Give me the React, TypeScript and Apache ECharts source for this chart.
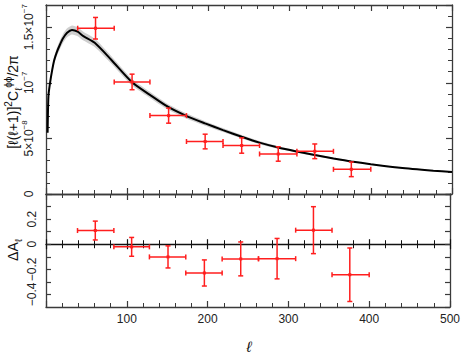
import React, { useEffect, useRef } from 'react';
import * as echarts from 'echarts';

// bandpowers (amplitude in units of 1e-8)
const binCenter = [61, 106, 151, 196, 241, 286, 331, 376];
const binLo = [39, 84, 128, 173, 218, 263, 309, 354];
const binHi = [84, 128, 173, 218, 263, 309, 354, 400];
const amp = [14.91, 10.08, 7.05, 4.72, 4.36, 3.6, 3.84, 2.22];
const ampErr = [0.97, 0.7, 0.68, 0.66, 0.69, 0.65, 0.66, 0.66];
// residuals
const dA = [0.109, -0.021, -0.101, -0.229, -0.117, -0.115, 0.112, -0.243];
const dAErr = [0.075, 0.075, 0.088, 0.104, 0.135, 0.161, 0.187, 0.213];
// theory curve (units of 1e-8)
const curveL = [2, 3, 5, 7, 10, 13, 17, 21, 26, 32, 39, 46, 60, 80, 106, 128, 150, 172, 196, 218, 241, 263, 286, 309, 331, 354, 376, 400, 436, 477, 500];
const curveC = [5.5, 8.8, 10.0, 10.9, 12.0, 12.7, 13.4, 14.0, 14.5, 14.75, 14.6, 14.2, 13.6, 12.1, 10.05, 8.92, 7.85, 7.05, 6.35, 5.75, 5.15, 4.62, 4.18, 3.82, 3.5, 3.2, 2.93, 2.68, 2.36, 2.1, 1.98];
const bandHalf = [0.2, 0.25, 0.3, 0.3, 0.35, 0.35, 0.4, 0.4, 0.4, 0.4, 0.4, 0.4, 0.38, 0.34, 0.3, 0.28, 0.25, 0.23, 0.2, 0.18, 0.16, 0.14, 0.12, 0.1, 0.09, 0.08, 0.07, 0.06, 0.05, 0.04, 0.04];

const xTicks = [100, 200, 300, 400, 500];
const ampTickLabels: Record<number, string> = {
  0: '0',
  5: '5×10{s|−8}',
  10: '10{s|−7}',
  15: '1.5×10{s|−7}',
};
const dATickLabels: Record<number, string> = { 2: '0.2', 0: '0', [-2]: '−0.2', [-4]: '−0.4' };

const RED = '#ff1e1e';
const FONT = 'Liberation Sans';
const FRAME = '#3a3a3a';

function errRender(params: any, api: any) {
  const x = api.value(0), y = api.value(1);
  const x0 = api.value(2), x1 = api.value(3), y0 = api.value(4), y1 = api.value(5);
  const c = api.coord([x, y]);
  const l = api.coord([x0, y]);
  const r = api.coord([x1, y]);
  const b = api.coord([x, y0]);
  const t = api.coord([x, y1]);
  const cap = 2.5;
  const st = { stroke: RED, lineWidth: 1.5 };
  return {
    type: 'group',
    children: [
      { type: 'line', shape: { x1: l[0], y1: c[1], x2: r[0], y2: c[1] }, style: st },
      { type: 'line', shape: { x1: c[0], y1: b[1], x2: c[0], y2: t[1] }, style: st },
      { type: 'line', shape: { x1: l[0], y1: c[1] - cap, x2: l[0], y2: c[1] + cap }, style: st },
      { type: 'line', shape: { x1: r[0], y1: c[1] - cap, x2: r[0], y2: c[1] + cap }, style: st },
      { type: 'line', shape: { x1: c[0] - cap, y1: t[1], x2: c[0] + cap, y2: t[1] }, style: st },
      { type: 'line', shape: { x1: c[0] - cap, y1: b[1], x2: c[0] + cap, y2: b[1] }, style: st },
      { type: 'rect', shape: { x: c[0] - 1.5, y: c[1] - 1.5, width: 3, height: 3 }, style: { fill: RED } },
    ],
  };
}

function bandRender(params: any, api: any) {
  if (params.dataIndex !== 0) return null;
  const up = curveL.map((l, i) => api.coord([l, curveC[i] + bandHalf[i]]));
  const lo = curveL.map((l, i) => api.coord([l, curveC[i] - bandHalf[i]])).reverse();
  return {
    type: 'polygon',
    shape: { points: up.concat(lo), smooth: 0.2 },
    style: { fill: '#cfcfcf', stroke: null },
  };
}

function xAxis(grid: number, pos: string, extra: any = {}) {
  return {
    type: 'value',
    gridIndex: grid,
    position: pos,
    min: 0,
    max: 500,
    interval: 100,
    axisLine: { show: true, onZero: false, lineStyle: { color: FRAME, width: 1.3 } },
    axisTick: { show: true, inside: true, length: 6, lineStyle: { color: FRAME, width: 1.2 } },
    minorTick: { show: true, splitNumber: 5, length: 4, lineStyle: { color: FRAME, width: 1 } },
    axisLabel: { show: false },
    splitLine: { show: false },
    ...extra,
  };
}

export default function App() {
  const ref = useRef<HTMLDivElement>(null);
  useEffect(() => {
    if (!ref.current) return;
    const chart = echarts.init(ref.current, undefined, { renderer: 'svg' });
    const labelStyle = { color: '#222', fontFamily: FONT, fontSize: 12 };
    const option: any = {
      animation: false,
      grid: [
        { left: 46, top: 5, right: 11, height: 189 },
        { left: 46, top: 194, right: 11, height: 113 },
      ],
      xAxis: [
        xAxis(0, 'bottom'),
        xAxis(0, 'top'),
        xAxis(1, 'bottom', {
          axisLabel: {
            show: true,
            ...labelStyle,
            margin: 6,
            formatter: (v: number) => (xTicks.indexOf(v) >= 0 ? String(v) : ''),
          },
        }),
        xAxis(1, 'top'),
        xAxis(1, 'bottom', {
          axisLine: { show: true, onZero: true, onZeroAxisIndex: 4, lineStyle: { color: '#111', width: 1.3 } },
          axisTick: { show: true, inside: true, length: 5, lineStyle: { color: '#111', width: 1.2 } },
          minorTick: { show: true, splitNumber: 5, length: 4, lineStyle: { color: '#111', width: 1 } },
        }),
        xAxis(1, 'bottom', {
          axisLine: { show: false, onZero: true, onZeroAxisIndex: 4 },
          axisTick: { show: true, inside: false, length: 5, lineStyle: { color: '#111', width: 1.2 } },
          minorTick: { show: true, splitNumber: 5, length: 4, lineStyle: { color: '#111', width: 1 } },
        }),
      ],
      yAxis: [
        {
          type: 'value', gridIndex: 0, position: 'left', min: 0, max: 17, interval: 5,
          axisLine: { show: true, lineStyle: { color: FRAME, width: 1.3 } },
          axisTick: { show: true, inside: true, length: 6, lineStyle: { color: FRAME, width: 1.2 } },
          splitLine: { show: false },
          axisLabel: {
            show: true, ...labelStyle, rotate: 90, margin: 8, showMaxLabel: false,
            formatter: (v: number) => ampTickLabels[Math.round(v)] ?? '',
            rich: { s: { fontSize: 8, fontFamily: FONT, color: '#222', verticalAlign: 'top', lineHeight: 8 } },
            lineHeight: 18,
          },
        },
        {
          type: 'value', gridIndex: 0, position: 'left', min: 0, max: 17, interval: 1,
          axisLine: { show: false },
          axisTick: { show: true, inside: true, length: 4, lineStyle: { color: FRAME, width: 1 } },
          splitLine: { show: false }, axisLabel: { show: false },
        },
        {
          type: 'value', gridIndex: 0, position: 'right', min: 0, max: 17, interval: 5,
          axisLine: { show: true, lineStyle: { color: FRAME, width: 1.3 } },
          axisTick: { show: true, inside: true, length: 6, lineStyle: { color: FRAME, width: 1.2 } },
          splitLine: { show: false }, axisLabel: { show: false },
        },
        {
          type: 'value', gridIndex: 0, position: 'right', min: 0, max: 17, interval: 1,
          axisLine: { show: false },
          axisTick: { show: true, inside: true, length: 4, lineStyle: { color: FRAME, width: 1 } },
          splitLine: { show: false }, axisLabel: { show: false },
        },
        {
          type: 'value', gridIndex: 1, position: 'left', min: -0.5, max: 0.4, interval: 0.1,
          axisLine: { show: true, onZero: false, lineStyle: { color: FRAME, width: 1.3 } },
          axisTick: { show: true, inside: true, length: 5, lineStyle: { color: FRAME, width: 1.2 } },
          splitLine: { show: false },
          axisLabel: {
            show: true, ...labelStyle, rotate: 90, margin: 8, showMaxLabel: false, showMinLabel: false,
            formatter: (v: number) => dATickLabels[Math.round(v * 10)] ?? '',
          },
        },
        {
          type: 'value', gridIndex: 1, position: 'right', min: -0.5, max: 0.4, interval: 0.1,
          axisLine: { show: true, onZero: false, lineStyle: { color: FRAME, width: 1.3 } },
          axisTick: { show: true, inside: true, length: 5, lineStyle: { color: FRAME, width: 1.2 } },
          splitLine: { show: false }, axisLabel: { show: false },
        },
      ],
      series: [
        {
          type: 'custom', xAxisIndex: 0, yAxisIndex: 0, clip: true, silent: true, z: 1,
          renderItem: bandRender, data: [[0]],
        },
        {
          type: 'line', xAxisIndex: 0, yAxisIndex: 0, showSymbol: false, smooth: 0.25,
          lineStyle: { color: '#000', width: 2 }, z: 2,
          data: curveL.map((l, i) => [l, curveC[i]]),
        },
        {
          type: 'custom', xAxisIndex: 0, yAxisIndex: 0, renderItem: errRender, z: 3,
          encode: { x: 0, y: 1 },
          data: binCenter.map((x, i) => [x, amp[i], binLo[i], binHi[i], amp[i] - ampErr[i], amp[i] + ampErr[i]]),
        },
        {
          type: 'custom', xAxisIndex: 2, yAxisIndex: 4, renderItem: errRender, z: 3,
          encode: { x: 0, y: 1 },
          data: binCenter.map((x, i) => [x, dA[i], binLo[i], binHi[i], dA[i] - dAErr[i], dA[i] + dAErr[i]]),
        },
      ],
      graphic: [
        {
          type: 'text', x: 13, y: 102, rotation: Math.PI / 2,
          style: {
            text: '[ℓ(ℓ+1)]{p|2}C{b|ℓ}{p|ϕϕ}/2π',
            fontFamily: FONT, fontSize: 14, fill: '#111', align: 'center', verticalAlign: 'middle', lineHeight: 20,
            rich: {
              p: { fontSize: 10, fontFamily: FONT, fill: '#111', verticalAlign: 'top', lineHeight: 10 },
              b: { fontSize: 10, fontFamily: FONT, fill: '#111', verticalAlign: 'bottom', lineHeight: 10 },
            },
          },
        },
        {
          type: 'text', x: 13, y: 250, rotation: Math.PI / 2,
          style: {
            text: 'ΔA{b|ℓ}',
            fontFamily: FONT, fontSize: 14, fill: '#111', align: 'center', verticalAlign: 'middle', lineHeight: 20,
            rich: { b: { fontSize: 10, fontFamily: FONT, fill: '#111', verticalAlign: 'bottom', lineHeight: 10 } },
          },
        },
        {
          type: 'text', x: 249, y: 346,
          style: { text: 'ℓ', fontFamily: FONT, fontSize: 15, fontStyle: 'italic', fill: '#111', align: 'center', verticalAlign: 'middle' },
        },
      ],
    };
    chart.setOption(option);
    return () => chart.dispose();
  }, []);
  return <div ref={ref} style={{ position: 'fixed', left: 0, top: 0, width: 463, height: 354, background: '#fff' }} />;
}
